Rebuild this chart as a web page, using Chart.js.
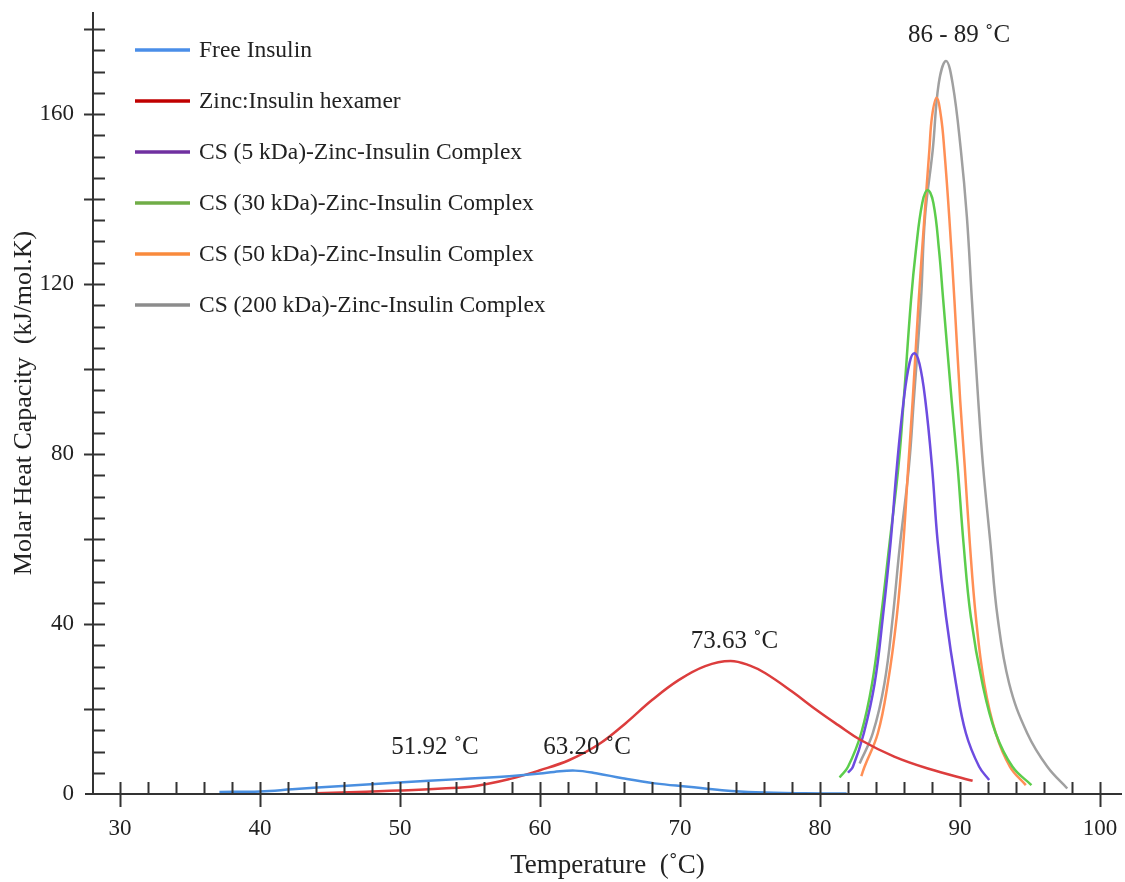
<!DOCTYPE html>
<html>
<head>
<meta charset="utf-8">
<script src="https://cdn.jsdelivr.net/npm/chart.js@4"></script>
<style>
  html, body { margin: 0; padding: 0; background: #fff; }
  canvas { display: block; }
</style>
</head>
<body>
<canvas id="chart" width="1125" height="882"></canvas>
<script>
// values
const freeX = [37.1, 40.0, 42.3, 45.9, 49.9, 54.2, 57.8, 60.0, 61.0, 62.5, 64.0, 65.9, 68.2, 70.6, 73.0, 75.4, 78.9, 81.9];
const freeY = [0.5, 0.6, 1.1, 1.9, 2.7, 3.5, 4.2, 4.8, 5.2, 5.5, 4.9, 3.7, 2.5, 1.7, 0.9, 0.4, 0.15, 0.1];

const zincX = [44.0, 47.6, 49.9, 53.0, 55.4, 57.8, 60.0, 62.1, 64.2, 66.1, 68.0, 69.9, 71.8, 73.6, 75.0, 76.1, 78.0, 79.9, 81.3, 82.9, 85.3, 87.7, 90.9];
const zincY = [0.15, 0.55, 0.8, 1.3, 1.9, 3.5, 5.6, 8.0, 11.7, 16.6, 22.1, 26.8, 30.1, 31.3, 30.2, 28.4, 24.1, 19.4, 16.2, 12.7, 8.8, 6.0, 3.1];

const cs5X = [82.0, 82.35, 83.13, 83.9, 84.49, 85.05, 85.49, 85.98, 86.4, 86.74, 87.1, 87.52, 88.0, 88.4, 89.0, 89.71, 90.42, 91.37, 92.08];
const cs5Y = [5.0, 6.4, 14.3, 26.0, 41.7, 59.5, 77.0, 92.7, 101.5, 103.7, 101.3, 92.7, 77.0, 59.5, 41.7, 26.0, 14.3, 6.4, 3.3];

const cs30X = [81.4, 82.0, 82.94, 83.72, 84.36, 84.95, 85.6, 85.98, 86.5, 86.85, 87.3, 87.69, 88.1, 88.5, 88.8, 89.4, 89.83, 90.25, 90.77, 91.6, 92.55, 93.75, 95.1];
const cs30Y = [3.9, 6.4, 14.3, 26.0, 41.7, 58.5, 77.0, 92.7, 116.2, 128.0, 139.0, 142.1, 139.0, 128.0, 116.2, 92.7, 77.0, 59.0, 41.7, 26.0, 14.3, 6.4, 2.1];

const cs50X = [82.95, 83.18, 84.13, 84.84, 85.48, 85.95, 86.3, 86.62, 87.05, 87.46, 87.81, 88.0, 88.33, 88.64, 88.88, 89.23, 89.6, 90.01, 90.34, 90.7, 91.13, 91.73, 92.55, 93.57, 94.7];
const cs50Y = [4.2, 6.4, 14.3, 26.0, 41.7, 59.0, 77.0, 92.7, 116.2, 135.8, 151.5, 159.4, 163.8, 159.4, 151.5, 135.8, 116.2, 92.7, 77.0, 59.0, 41.7, 26.0, 14.3, 6.4, 2.1];

const cs200X = [82.83, 83.77, 84.6, 85.2, 85.67, 86.35, 86.7, 87.21, 87.5, 88.05, 88.48, 89.0, 89.47, 90.06, 90.49, 90.85, 91.3, 91.65, 92.17, 92.68, 93.51, 94.8, 96.24, 97.66];
const cs200Y = [7.2, 14.3, 26.0, 41.7, 57.4, 77.0, 92.7, 116.2, 135.8, 151.5, 167.2, 172.5, 167.2, 151.5, 135.8, 116.2, 92.7, 77.0, 59.0, 41.7, 26.0, 14.3, 6.4, 1.3];

const seriesLabels = [
    'Free Insulin',
    'Zinc:Insulin hexamer',
    'CS (5 kDa)-Zinc-Insulin Complex',
    'CS (30 kDa)-Zinc-Insulin Complex',
    'CS (50 kDa)-Zinc-Insulin Complex',
    'CS (200 kDa)-Zinc-Insulin Complex'
];
const lineColors = ['#4a8fe0', '#dc3d3d', '#6d4ce0', '#5ccd4c', '#ff8f55', '#a0a0a0'];
const legendColors = ['#4a8ee8', '#c00000', '#7030a0', '#70ad47', '#f98a3c', '#8c8c8c'];

const xTicks = [30, 40, 50, 60, 70, 80, 90, 100];
const yTicks = [0, 40, 80, 120, 160];

const noteText = ['86 - 89 ˚C', '73.63 ˚C', '51.92 ˚C', '63.20 ˚C'];
const noteX = [89.93, 73.89, 52.5, 63.36];
const noteY = [178.4, 36.0, 10.9, 11.0];

const FONT = '"Liberation Serif", "Times New Roman", serif';
const TEXT = '#222';
const AXIS = '#333';

const zip = (xs, ys) => xs.map((x, i) => ({ x: x, y: ys[i] }));
const seriesX = [freeX, zincX, cs5X, cs30X, cs50X, cs200X];
const seriesY = [freeY, zincY, cs5Y, cs30Y, cs50Y, cs200Y];

// axes, tick marks, legend and notes
const decor = {
    id: 'decor',
    afterDraw(chart) {
        const ctx = chart.ctx;
        const xs = chart.scales.x;
        const ys = chart.scales.y;
        const area = chart.chartArea;
        const x0 = area.left;
        const y0 = ys.getPixelForValue(0);
        ctx.save();
        ctx.strokeStyle = AXIS;
        ctx.lineWidth = 2;
        ctx.beginPath();
        ctx.moveTo(x0, y0);
        ctx.lineTo(x0, area.top);
        ctx.moveTo(x0 - 8, y0);
        ctx.lineTo(area.right, y0);
        ctx.stroke();

        ctx.beginPath();
        for (let v = 5; v <= 180; v += 5) {
            const p = Math.round(ys.getPixelForValue(v)) + 0.5;
            ctx.moveTo(v % 20 === 0 ? x0 - 9 : x0, p);
            ctx.lineTo(x0 + 12, p);
        }
        for (let v = 30; v <= 100; v += 2) {
            const p = Math.round(xs.getPixelForValue(v)) + 0.5;
            ctx.moveTo(p, y0 - 12);
            ctx.lineTo(p, v % 10 === 0 ? y0 + 13 : y0);
        }
        ctx.stroke();

        // legend
        ctx.font = '23.5px ' + FONT;
        ctx.textBaseline = 'middle';
        ctx.textAlign = 'left';
        seriesLabels.forEach((label, i) => {
            const y = 50 + i * 51;
            ctx.strokeStyle = legendColors[i];
            ctx.lineWidth = 3.5;
            ctx.beginPath();
            ctx.moveTo(135, y);
            ctx.lineTo(190, y);
            ctx.stroke();
            ctx.fillStyle = TEXT;
            ctx.fillText(label, 199, y + 1);
        });

        // peak notes
        ctx.font = '25px ' + FONT;
        ctx.textAlign = 'center';
        noteText.forEach((t, i) => {
            ctx.fillText(t, xs.getPixelForValue(noteX[i]), ys.getPixelForValue(noteY[i]));
        });
        ctx.restore();
    }
};

const ctx = document.getElementById('chart').getContext('2d');
const chart = new Chart(ctx, {
    type: 'line',
    data: {
        datasets: seriesLabels.map((label, i) => ({
            label: label,
            data: zip(seriesX[i], seriesY[i]),
            borderColor: lineColors[i],
            borderWidth: 2.5,
            pointRadius: 0,
            fill: false,
            tension: 0.4
        }))
    },
    options: {
        responsive: false,
        animation: false,
        devicePixelRatio: 1,
        layout: { padding: { top: 12, right: 3, left: 0, bottom: 0 } },
        plugins: {
            legend: { display: false },
            tooltip: { enabled: false }
        },
        scales: {
            x: {
                type: 'linear',
                min: 28.07,
                max: 101.57,
                grid: { display: false },
                border: { display: false },
                afterBuildTicks: s => { s.ticks = xTicks.map(v => ({ value: v })); },
                afterFit: s => {
                    s.height = 88;
                    s.paddingLeft = 0;
                    s.paddingRight = 0;
                },
                ticks: {
                    padding: 13,
                    color: TEXT,
                    font: { family: FONT, size: 23 },
                    maxRotation: 0
                },
                title: {
                    display: true,
                    text: 'Temperature  (˚C)',
                    color: TEXT,
                    padding: 0,
                    font: { family: FONT, size: 27 }
                }
            },
            y: {
                min: 0,
                max: 184,
                grid: { display: false },
                border: { display: false },
                afterBuildTicks: s => { s.ticks = yTicks.map(v => ({ value: v })); },
                afterFit: s => {
                    s.width = 93;
                    s.paddingTop = 0;
                    s.paddingBottom = 0;
                },
                ticks: {
                    padding: 11,
                    color: TEXT,
                    font: { family: FONT, size: 23 }
                },
                title: {
                    display: true,
                    text: 'Molar Heat Capacity  (kJ/mol.K)',
                    color: TEXT,
                    padding: 9,
                    font: { family: FONT, size: 26 }
                }
            }
        }
    },
    plugins: [decor]
});
</script>
</body>
</html>
